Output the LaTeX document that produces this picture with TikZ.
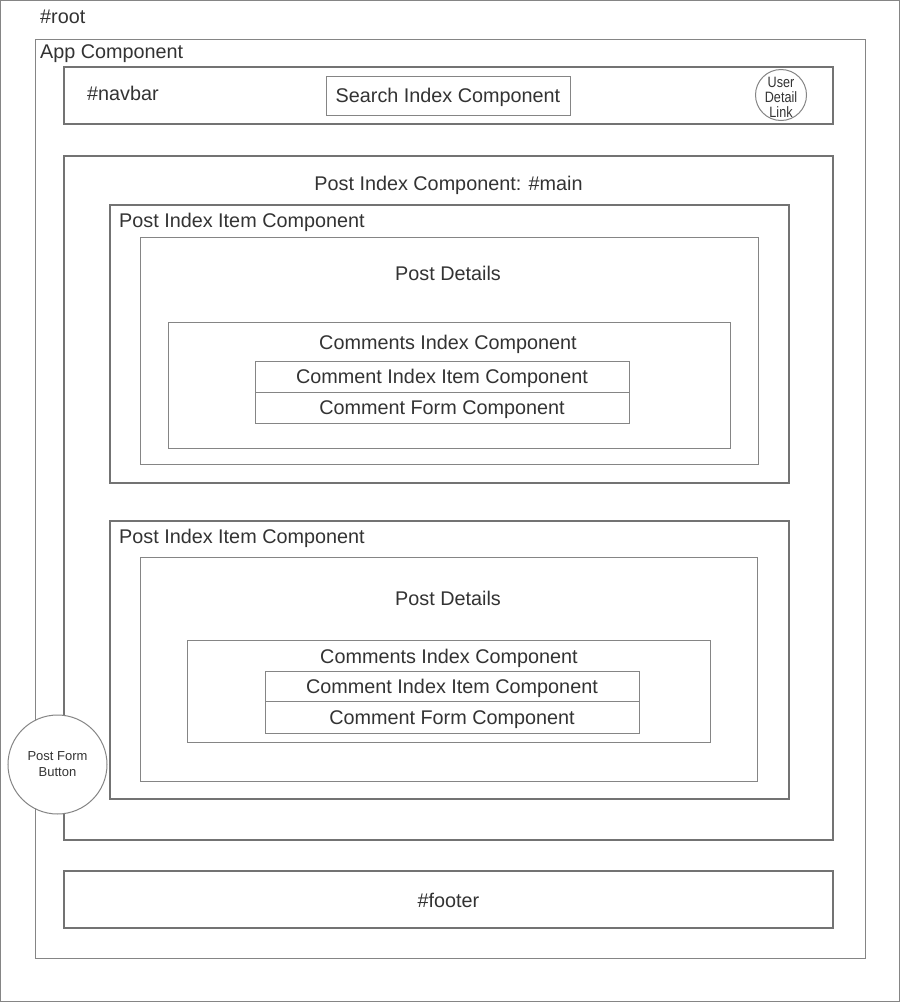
\documentclass[tikz,border=0pt]{standalone}
\usepackage{fontspec}
\setmainfont{Liberation Sans}
\newfontfamily\narrowfont[FakeStretch=0.84]{Liberation Sans}
\usetikzlibrary{shapes.geometric}
\begin{document}
\begin{tikzpicture}[x=1pt,y=-1pt,
  thinbox/.style={draw=black!48,line width=1pt},
  thickbox/.style={draw=black!55,line width=2pt},
  lbl/.style={text=black!80,font=\fontsize{19.8}{23}\selectfont,inner sep=0pt,anchor=base},
  lblw/.style={lbl,anchor=base west},
  small/.style={text=black!80,font=\fontsize{13}{16}\selectfont,align=center,inner sep=0pt},
  tiny/.style={text=black!80,font=\narrowfont\fontsize{15}{15}\selectfont,inner sep=0pt,anchor=base}]
\useasboundingbox (0,0) rectangle (900,1002);
\fill[white] (0,0) rectangle (900,1002);
% root
\draw[thinbox] (0.5,0.5) rectangle (899.5,1001.5);
\node[lblw] (root) at (40,23.5) {\#root};
% app
\draw[thinbox] (35,39) rectangle (865,958);
\node[lblw] (app) at (40,58) {App Component};
% navbar
\draw[thickbox] (64,67) rectangle (833,124);
\node[lblw] (nav) at (87,100) {\#navbar};
\draw[thinbox] (326,76) rectangle (570,115);
\node[lbl] (search) at (448,102.5) {Search Index Component};
\node[circle,thinbox,fill=white,minimum size=51pt,inner sep=0pt] (user) at (781,95) {};
\node[tiny] (u1) at (781,87) {User};
\node[tiny] (u2) at (781,102) {Detail};
\node[tiny] (u3) at (781,117) {Link};
% main
\draw[thickbox] (64,156) rectangle (833,840);
\node[lbl] (main) at (448.5,190) {Post Index Component: \#main};
% item 1
\draw[thickbox] (110,205) rectangle (789,483);
\node[lblw] (item1) at (119,227) {Post Index Item Component};
\draw[thinbox] (140,237) rectangle (758,464);
\node[lbl] (pd1) at (448,280) {Post Details};
\draw[thinbox] (168,322) rectangle (730,448);
\node[lbl] (ci1) at (448,349) {Comments Index Component};
\draw[thinbox] (255,361) rectangle (629,392);
\node[lbl] (cii1) at (442,383.5) {Comment Index Item Component};
\draw[thinbox] (255,392) rectangle (629,423);
\node[lbl] (cf1) at (442,414.5) {Comment Form Component};
% item 2
\draw[thickbox] (110,521) rectangle (789,799);
\node[lblw] (item2) at (119,543) {Post Index Item Component};
\draw[thinbox] (140,557) rectangle (757,781);
\node[lbl] (pd2) at (448,605) {Post Details};
\draw[thinbox] (187,640) rectangle (710,742);
\node[lbl] (ci2) at (449,663) {Comments Index Component};
\draw[thinbox] (265,671) rectangle (639,701);
\node[lbl] (cii2) at (452,693) {Comment Index Item Component};
\draw[thinbox] (265,701) rectangle (639,733);
\node[lbl] (cf2) at (452,724) {Comment Form Component};
% post form button
\node[circle,thinbox,fill=white,minimum size=99pt,inner sep=0pt] (pfb) at (57.5,764.5) {};
\node[small] (pfblbl) at (57.5,764.5) {Post Form\\Button};
% footer
\draw[thickbox] (64,871) rectangle (833,928);
\node[lbl] (footer) at (448.5,907) {\#footer};
\end{tikzpicture}
\end{document}
